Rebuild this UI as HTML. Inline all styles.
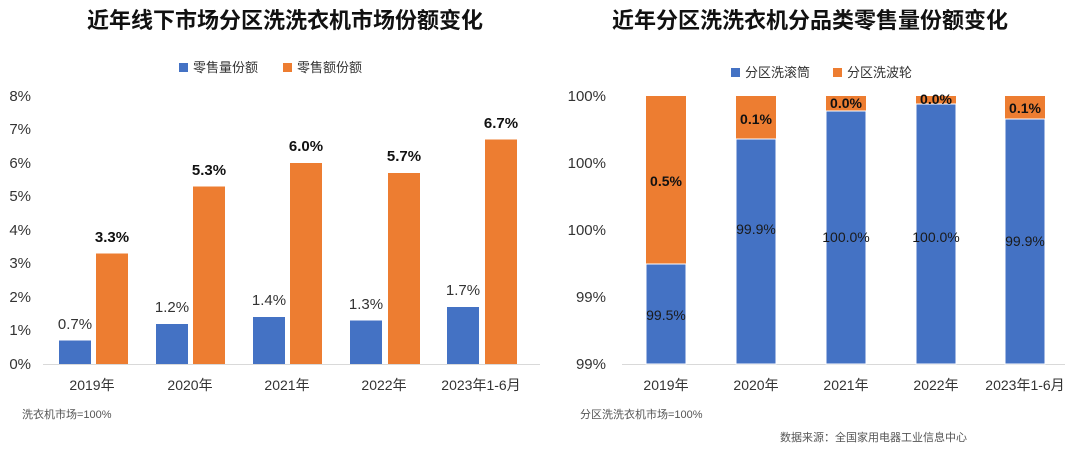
<!DOCTYPE html>
<html><head><meta charset="utf-8"><style>
body{margin:0;background:#fff;}
svg{display:block;font-family:"Liberation Sans","Noto Sans CJK SC",sans-serif;}
</style></head><body>
<svg width="1080" height="453" viewBox="0 0 1080 453">
<rect width="1080" height="453" fill="#fff"/>
<text x="285" y="28" font-size="22" font-weight="bold" text-anchor="middle" fill="#111">近年线下市场分区洗洗衣机市场份额变化</text>
<text x="810" y="28" font-size="22" font-weight="bold" text-anchor="middle" fill="#111">近年分区洗洗衣机分品类零售量份额变化</text>
<rect x="179" y="63" width="9" height="9" fill="#4472c4"/><text x="193" y="72" font-size="13" fill="#333">零售量份额</text>
<rect x="283" y="63" width="9" height="9" fill="#ed7d31"/><text x="297" y="72" font-size="13" fill="#333">零售额份额</text>
<g font-size="15" fill="#333" text-anchor="end">
<text x="31" y="101">8%</text><text x="31" y="134">7%</text><text x="31" y="168">6%</text><text x="31" y="201">5%</text><text x="31" y="235">4%</text><text x="31" y="268">3%</text><text x="31" y="302">2%</text><text x="31" y="335">1%</text><text x="31" y="369">0%</text>
</g>
<line x1="43" y1="364.5" x2="540" y2="364.5" stroke="#d9d9d9"/>
<g fill="#4472c4">
<rect x="59" y="340.5" width="32" height="23.5"/><rect x="156" y="324" width="32" height="40"/><rect x="253" y="317" width="32" height="47"/><rect x="350" y="320.5" width="32" height="43.5"/><rect x="447" y="307" width="32" height="57"/>
</g>
<g fill="#ed7d31">
<rect x="96" y="253.5" width="32" height="110.5"/><rect x="193" y="186.5" width="32" height="177.5"/><rect x="290" y="163" width="32" height="201"/><rect x="388" y="173" width="32" height="191"/><rect x="485" y="139.5" width="32" height="224.5"/>
</g>
<g font-size="15" fill="#333" text-anchor="middle">
<text x="75" y="329">0.7%</text><text x="172" y="312">1.2%</text><text x="269" y="305">1.4%</text><text x="366" y="309">1.3%</text><text x="463" y="295">1.7%</text>
</g>
<g font-size="15" font-weight="bold" fill="#111" text-anchor="middle">
<text x="112" y="242">3.3%</text><text x="209" y="175">5.3%</text><text x="306" y="151">6.0%</text><text x="404" y="161">5.7%</text><text x="501" y="128">6.7%</text>
</g>
<g font-size="14" fill="#333" text-anchor="middle">
<text x="92" y="390">2019年</text><text x="190" y="390">2020年</text><text x="287" y="390">2021年</text><text x="384" y="390">2022年</text><text x="481" y="390">2023年1-6月</text>
</g>
<text x="22" y="418" font-size="11" fill="#555">洗衣机市场=100%</text>
<rect x="731" y="68" width="9" height="9" fill="#4472c4"/><text x="745" y="77" font-size="13" fill="#333">分区洗滚筒</text>
<rect x="833" y="68" width="9" height="9" fill="#ed7d31"/><text x="847" y="77" font-size="13" fill="#333">分区洗波轮</text>
<g font-size="15" fill="#333" text-anchor="end">
<text x="606" y="101">100%</text><text x="606" y="168">100%</text><text x="606" y="235">100%</text><text x="606" y="302">99%</text><text x="606" y="369">99%</text>
</g>
<line x1="622" y1="364.5" x2="1065" y2="364.5" stroke="#d9d9d9"/>
<g fill="#ed7d31">
<rect x="646" y="96" width="40" height="268"/><rect x="736" y="96" width="40" height="268"/><rect x="826" y="96" width="40" height="268"/><rect x="916" y="96" width="40" height="268"/><rect x="1005" y="96" width="40" height="268"/>
</g>
<g fill="#4472c4" stroke="#fff" stroke-width="1">
<rect x="646" y="264" width="40" height="100"/><rect x="736" y="139" width="40" height="225"/><rect x="826" y="111" width="40" height="253"/><rect x="916" y="104" width="40" height="260"/><rect x="1005" y="119" width="40" height="245"/>
</g>
<g font-size="14" fill="#1a1a1a" text-anchor="middle">
<text x="666" y="320">99.5%</text><text x="756" y="234">99.9%</text><text x="846" y="242">100.0%</text><text x="936" y="242">100.0%</text><text x="1025" y="246">99.9%</text>
</g>
<g font-size="14" font-weight="bold" fill="#111" text-anchor="middle">
<text x="666" y="186">0.5%</text><text x="756" y="124">0.1%</text><text x="846" y="108">0.0%</text><text x="936" y="104">0.0%</text><text x="1025" y="113">0.1%</text>
</g>
<g font-size="14" fill="#333" text-anchor="middle">
<text x="666" y="390">2019年</text><text x="756" y="390">2020年</text><text x="846" y="390">2021年</text><text x="936" y="390">2022年</text><text x="1025" y="390">2023年1-6月</text>
</g>
<text x="580" y="418" font-size="11" fill="#555">分区洗洗衣机市场=100%</text>
<text x="780" y="441" font-size="11" fill="#555">数据来源：全国家用电器工业信息中心</text>
</svg>
</body></html>
